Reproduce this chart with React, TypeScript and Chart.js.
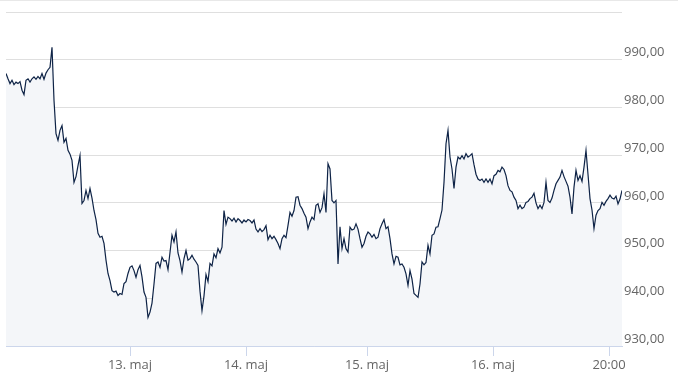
import React, { useEffect, useRef } from "react";
import { Chart, registerables } from "chart.js";

Chart.register(...registerables);

// Price series, evenly spaced samples from 12. maj through 16. maj 20:00
const prices: number[] = [
  987.1, 986.0, 985.0, 985.7, 984.8, 985.3, 985.0, 985.4, 983.6, 982.7,
  985.7, 986.0, 985.3, 986.0, 986.4, 985.9, 986.5, 986.0, 987.1, 985.9,
  987.2, 987.9, 988.4, 992.6, 981.5, 974.5, 973.1, 975.2, 976.2, 972.7,
  973.5, 971.0, 970.2, 968.9, 964.3, 965.5, 967.8, 969.9, 959.9, 960.5,
  962.6, 960.9, 963.0, 961.0, 958.4, 956.5, 953.6, 952.8, 953.0, 951.5,
  948.0, 945.2, 943.7, 941.6, 941.3, 941.5, 940.6, 941.0, 940.8, 943.1,
  943.5, 945.2, 946.5, 946.8, 945.8, 944.4, 946.0, 946.9, 944.5, 941.3,
  940.2, 936.0, 937.1, 939.0, 943.0, 947.3, 947.6, 946.5, 948.6, 947.8,
  947.9, 946.0, 949.6, 953.2, 951.8, 953.9, 949.5, 947.9, 945.5, 948.3,
  950.0, 948.0, 948.3, 949.0, 948.2, 947.6, 946.9, 941.5, 937.4, 940.5,
  945.0, 943.5, 947.3, 946.8, 949.3, 948.5, 950.4, 949.5, 950.7, 958.4,
  955.5, 957.0, 956.7, 956.2, 956.8, 956.0, 956.7, 956.3, 955.8, 956.4,
  956.0, 956.5, 956.3, 955.8, 956.4, 954.5, 953.9, 954.6, 954.0, 954.4,
  955.2, 952.3, 953.2, 952.5, 953.0, 952.3, 951.5, 950.4, 952.5, 953.2,
  952.7, 955.3, 958.0, 957.2, 958.4, 961.2, 961.3, 959.5, 958.8, 957.8,
  957.0, 954.6, 956.0, 957.0, 956.5, 959.5, 959.8, 958.0, 959.0, 961.9,
  958.0, 968.2, 967.1, 960.5, 960.0, 960.5, 947.2, 955.0, 950.4, 952.5,
  950.4, 949.7, 954.9, 954.3, 954.5, 955.6, 954.5, 952.5, 950.7, 951.5,
  953.0, 953.9, 953.5, 952.8, 953.4, 952.5, 952.8, 954.6, 955.6, 956.5,
  954.6, 955.0, 952.5, 949.3, 947.2, 948.8, 948.6, 947.0, 947.2, 946.5,
  945.1, 942.7, 945.8, 944.0, 941.0, 940.6, 940.2, 943.0, 947.6, 947.0,
  947.5, 951.1, 949.3, 953.2, 953.5, 954.9, 955.0, 956.7, 958.5, 964.3,
  972.4, 975.2, 969.6, 967.1, 963.0, 967.5, 969.6, 969.2, 969.9, 969.2,
  970.3, 969.6, 969.9, 970.3, 968.0, 966.0, 965.0, 964.7, 965.0, 964.3,
  965.0, 964.3, 965.0, 964.0, 965.7, 966.0, 966.8, 966.5, 967.5, 967.0,
  965.7, 963.6, 962.6, 962.3, 961.2, 960.5, 958.8, 959.5, 958.8, 959.1,
  960.1, 960.3, 960.9, 961.2, 962.0, 960.0, 958.8, 959.5, 958.8, 960.1,
  964.3, 960.5, 960.1, 961.0, 962.6, 964.0, 964.7, 965.4, 966.8, 965.5,
  964.5, 963.5, 961.2, 957.7, 963.3, 966.8, 964.7, 965.7, 964.5, 967.5,
  971.0, 966.0, 960.9, 958.5, 954.6, 957.4, 958.4, 958.8, 960.1, 959.5,
  960.3, 960.9, 961.6, 961.0, 960.8, 961.4, 959.8, 960.8, 962.6,
];

// X tick positions (sample index) and their labels
const xTickPositions: number[] = [62, 120, 180.5, 243.5, 301.5];
const xTickLabels: string[] = ["13. maj", "14. maj", "15. maj", "16. maj", "20:00"];

// Y ticks
const yTickValues: number[] = [930, 940, 950, 960, 970, 980, 990, 1000];
const yTickLabels: string[] = ["930,00", "940,00", "950,00", "960,00", "970,00", "980,00", "990,00", ""];

const FONT = { family: "'Open Sans', 'DejaVu Sans', sans-serif", size: 13 };

export default function App() {
  const ref = useRef<HTMLCanvasElement>(null);

  useEffect(() => {
    document.body.style.margin = "0";
    const topLine = {
      id: "topLine",
      beforeDraw(chart: any) {
        const ctx = chart.ctx;
        ctx.save();
        ctx.strokeStyle = "#e8e8e8";
        ctx.lineWidth = 1;
        ctx.beginPath();
        ctx.moveTo(0, 0.5);
        ctx.lineTo(chart.width, 0.5);
        ctx.stroke();
        ctx.restore();
      },
    };
    const chart = new Chart(ref.current as HTMLCanvasElement, {
      type: "line",
      data: {
        datasets: [
          {
            data: prices.map((y, i) => ({ x: i, y })),
            borderColor: "#0e2346",
            borderWidth: 1.2,
            backgroundColor: "#f4f6f9",
            fill: "start",
            pointRadius: 0,
            tension: 0,
          },
        ],
      },
      options: {
        responsive: false,
        animation: false,
        devicePixelRatio: 1,
        layout: { padding: { left: 6, top: 12, right: 0, bottom: 0 } },
        plugins: { legend: { display: false }, tooltip: { enabled: false } },
        scales: {
          x: {
            type: "linear",
            min: 0,
            max: prices.length - 1,
            afterBuildTicks: (s: any) => {
              s.ticks = xTickPositions.map((v) => ({ value: v }));
            },
            afterFit: (s: any) => {
              s.height = 44;
            },
            ticks: {
              autoSkip: false,
              maxRotation: 0,
              padding: 1,
              color: "#666666",
              font: FONT,
              callback: (v: any) => {
                const k = xTickPositions.indexOf(Number(v));
                return k >= 0 ? xTickLabels[k] : "";
              },
            },
            grid: { drawOnChartArea: false, drawTicks: true, tickLength: 10, color: "#ccd6eb" },
            border: { display: true, color: "#ccd6eb" },
          },
          y: {
            type: "linear",
            position: "right",
            min: 930,
            max: 1000,
            afterBuildTicks: (s: any) => {
              s.ticks = yTickValues.map((v) => ({ value: v }));
            },
            afterFit: (s: any) => {
              s.width = 56;
            },
            ticks: {
              padding: 2,
              labelOffset: -7,
              color: "#666666",
              font: FONT,
              callback: (v: any) => {
                const k = yTickValues.indexOf(Number(v));
                return k >= 0 ? yTickLabels[k] : "";
              },
            },
            grid: { color: "#dfdfdf", drawTicks: false },
            border: { display: false },
          },
        },
      },
      plugins: [topLine],
    } as any);
    return () => chart.destroy();
  }, []);

  return <canvas ref={ref} width={678} height={390} style={{ display: "block" }} />;
}
